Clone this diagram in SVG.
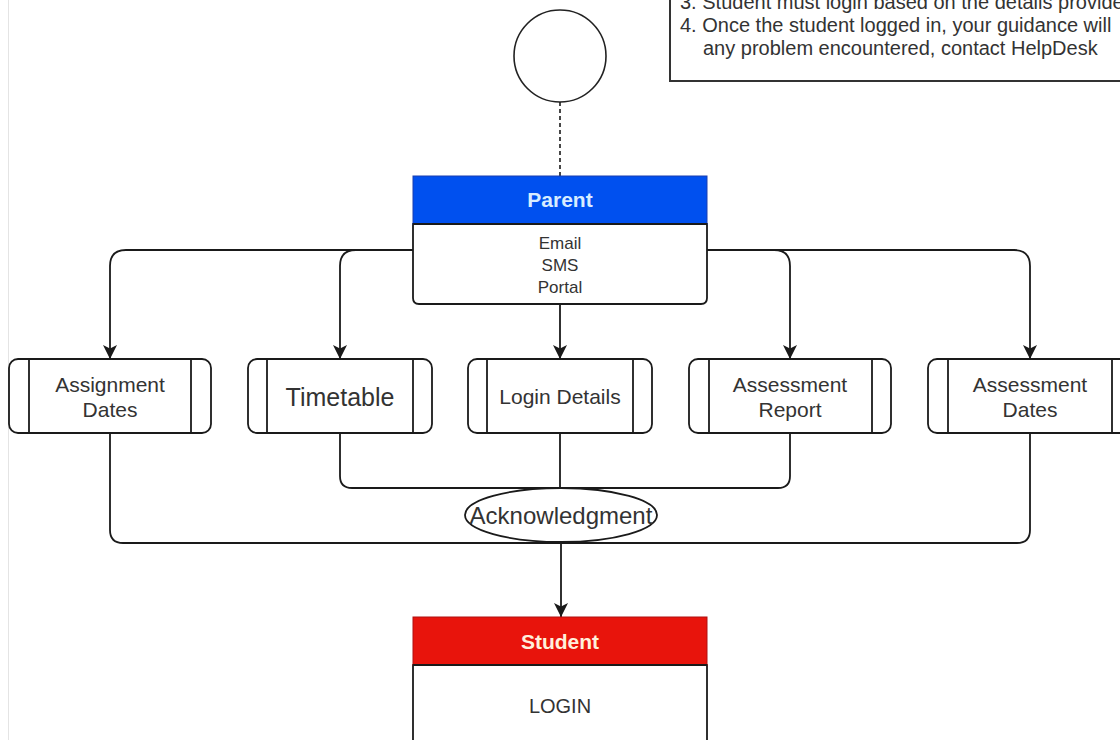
<svg xmlns="http://www.w3.org/2000/svg" width="1120" height="740" viewBox="0 0 1120 740">
<style>
.t{font-family:"Liberation Sans",Arial,sans-serif;fill:#333;text-anchor:middle}
.box{fill:#fff;stroke:#1a1a1a;stroke-width:1.8}
.ln{fill:none;stroke:#1a1a1a;stroke-width:1.8}
.arr{fill:none;stroke:#1a1a1a;stroke-width:1.8;marker-end:url(#ah)}
.note{font-family:"Liberation Sans",Arial,sans-serif;font-size:20px;fill:#333}
</style>
<defs>
<marker id="ah" markerUnits="userSpaceOnUse" markerWidth="15" markerHeight="15" refX="14" refY="7.5" orient="auto">
<path d="M0,0.5 L14,7.5 L0,14.5 L3.5,7.5 z" fill="#1a1a1a"/>
</marker>
</defs>
<rect width="1120" height="740" fill="#fff"/>
<line x1="8.5" y1="0" x2="8.5" y2="740" stroke="#e4e4e4" stroke-width="1"/>

<g id="note">
<rect x="670" y="-60" width="480" height="141" fill="#fff" stroke="#333" stroke-width="2"/>
<text class="note" x="680" y="9">3. Student must login based on the details provide</text>
<text class="note" x="680" y="32">4. Once the student logged in, your guidance will</text>
<text class="note" x="703" y="55">any problem encountered, contact HelpDesk</text>
</g>

<g id="start">
<circle cx="560" cy="56" r="46" fill="#fff" stroke="#222" stroke-width="1.6"/>
</g>

<g id="connectors">
<line x1="560" y1="102" x2="560" y2="176" stroke="#1a1a1a" stroke-width="1.6" stroke-dasharray="4 3"/>
<path class="arr" d="M413,250 H126 Q110,250 110,266 V359"/>
<path class="arr" d="M413,250 H356 Q340,250 340,266 V359"/>
<path class="arr" d="M560,304 V359"/>
<path class="arr" d="M707,250 H774 Q790,250 790,266 V359"/>
<path class="arr" d="M707,250 H1014 Q1030,250 1030,266 V359"/>
<path class="ln" d="M340,433 V476 Q340,488 352,488 H778 Q790,488 790,476 V433"/>
<path class="ln" d="M110,433 V530 Q110,543 123,543 H1017 Q1030,543 1030,530 V433"/>
<path class="ln" d="M560,433 V489"/>
<path class="arr" d="M561,542 V617"/>
</g>

<g id="parent">
<path class="box" d="M413,224 H707 V298 Q707,304 701,304 H419 Q413,304 413,298 Z"/>
<rect x="413" y="176" width="294" height="48" fill="#0050ef" stroke="#1a3fb0" stroke-width="1"/>
<line x1="413" y1="224" x2="707" y2="224" stroke="#1a1a1a" stroke-width="1.8"/>
<text class="t" x="560" y="207" style="font-size:21px;font-weight:bold;fill:#d8ecff">Parent</text>
<text class="t" x="560" y="249" style="font-size:17px">Email</text>
<text class="t" x="560" y="271" style="font-size:17px">SMS</text>
<text class="t" x="560" y="293" style="font-size:17px">Portal</text>
</g>

<g id="assignment-dates">
<rect class="box" x="9" y="359" width="202" height="74" rx="9"/>
<line class="ln" x1="29" y1="359" x2="29" y2="433"/>
<line class="ln" x1="191" y1="359" x2="191" y2="433"/>
<text class="t" x="110" y="392" style="font-size:21px">Assignment</text>
<text class="t" x="110" y="417" style="font-size:21px">Dates</text>
</g>

<g id="timetable">
<rect class="box" x="248" y="359" width="184" height="74" rx="9"/>
<line class="ln" x1="267" y1="359" x2="267" y2="433"/>
<line class="ln" x1="413" y1="359" x2="413" y2="433"/>
<text class="t" x="340" y="406" style="font-size:25px">Timetable</text>
</g>

<g id="login-details">
<rect class="box" x="468" y="359" width="184" height="74" rx="9"/>
<line class="ln" x1="487" y1="359" x2="487" y2="433"/>
<line class="ln" x1="633" y1="359" x2="633" y2="433"/>
<text class="t" x="560" y="404" style="font-size:21px">Login Details</text>
</g>

<g id="assessment-report">
<rect class="box" x="689" y="359" width="202" height="74" rx="9"/>
<line class="ln" x1="709" y1="359" x2="709" y2="433"/>
<line class="ln" x1="872" y1="359" x2="872" y2="433"/>
<text class="t" x="790" y="392" style="font-size:21px">Assessment</text>
<text class="t" x="790" y="417" style="font-size:21px">Report</text>
</g>

<g id="assessment-dates">
<rect class="box" x="928" y="359" width="204" height="74" rx="9"/>
<line class="ln" x1="948" y1="359" x2="948" y2="433"/>
<line class="ln" x1="1112" y1="359" x2="1112" y2="433"/>
<text class="t" x="1030" y="392" style="font-size:21px">Assessment</text>
<text class="t" x="1030" y="417" style="font-size:21px">Dates</text>
</g>

<g id="acknowledgment">
<ellipse cx="561" cy="515" rx="96" ry="27" fill="#fff" stroke="#1a1a1a" stroke-width="1.8"/>
<text class="t" x="561" y="524" style="font-size:24px">Acknowledgment</text>
</g>

<g id="student">
<rect class="box" x="413" y="665" width="294" height="90"/>
<rect x="413" y="617" width="294" height="48" fill="#e8140c" stroke="#b01010" stroke-width="1"/>
<line x1="413" y1="665" x2="707" y2="665" stroke="#1a1a1a" stroke-width="1.8"/>
<text class="t" x="560" y="649" style="font-size:21px;font-weight:bold;fill:#fff0dc">Student</text>
<text class="t" x="560" y="713" style="font-size:20px">LOGIN</text>
</g>
</svg>
